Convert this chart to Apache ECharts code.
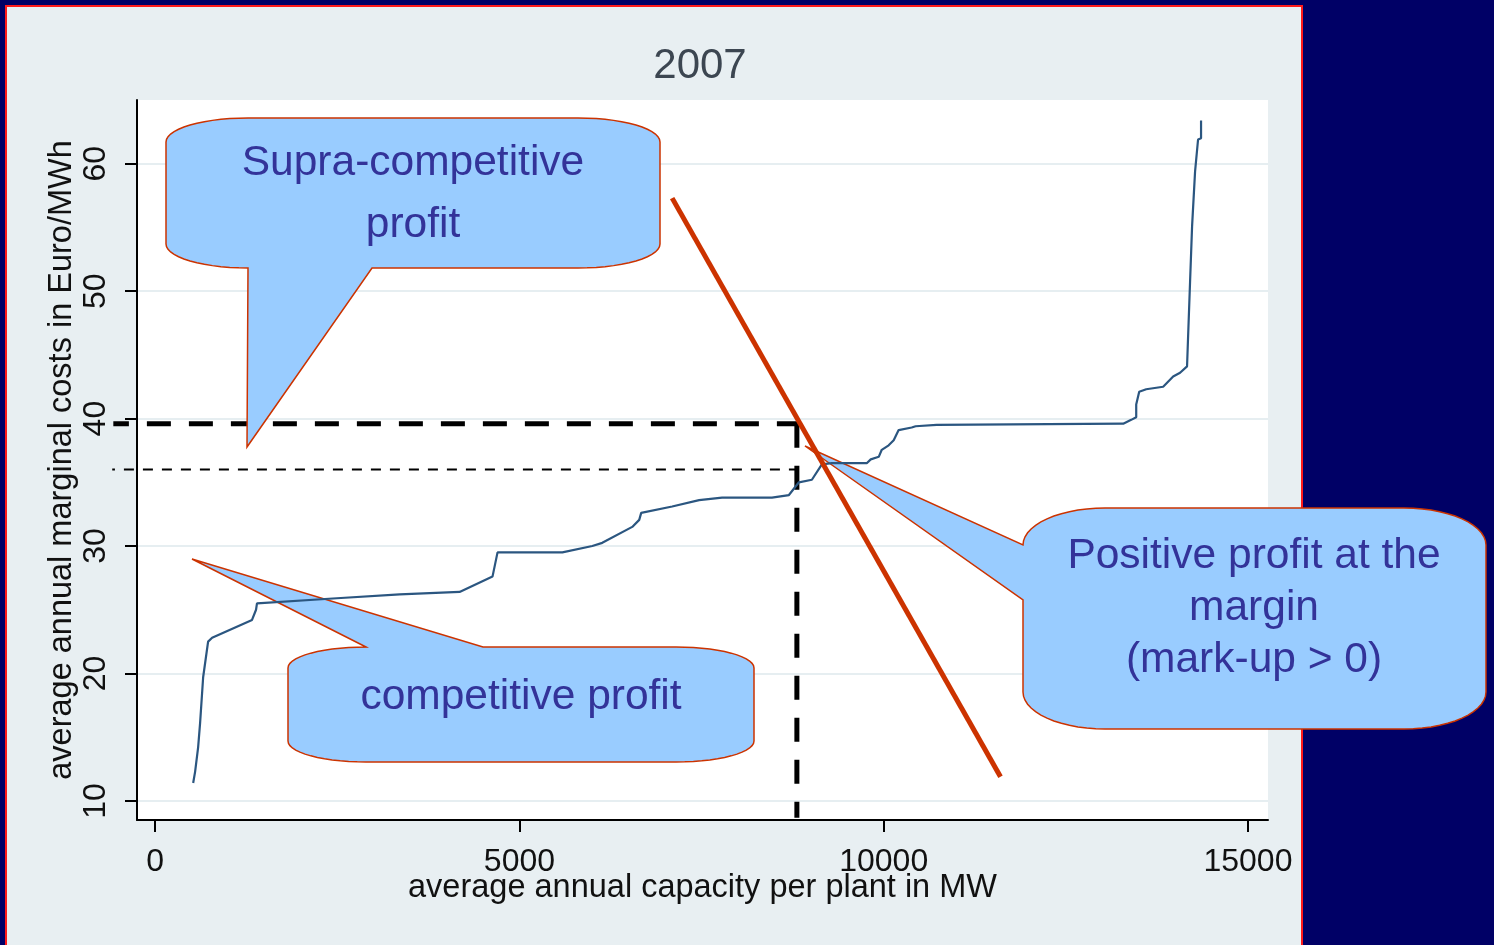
<!DOCTYPE html>
<html><head><meta charset="utf-8">
<script src="https://cdn.jsdelivr.net/npm/echarts@6/dist/echarts.min.js"></script>
<style>html,body{margin:0;padding:0;background:#e8eff2;width:1494px;height:945px;overflow:hidden}#c{width:1494px;height:945px}</style>
</head><body><div id="c"></div>
<script>
// ---- data ----
const capacity = [521, 548, 589, 616, 658, 726, 781, 1329, 1384, 1397, 2493, 3356, 4178, 4630, 4699, 5589, 6000, 6137, 6548, 6644, 6671, 7096, 7466, 7781, 8466, 8699, 8836, 9014, 9151, 9288, 9767, 9822, 9932, 9973, 10068, 10137, 10205, 10384, 10438, 10726, 10753, 13288, 13397, 13466, 13466, 13507, 13603, 13836, 13973, 14068, 14164, 14178, 14205, 14233, 14274, 14315, 14356, 14356];
const marginalCost = [11.4, 12.3, 14.2, 16.1, 19.7, 22.5, 22.8, 24.2, 25.0, 25.5, 25.9, 26.2, 26.4, 27.6, 29.5, 29.5, 30.0, 30.25, 31.5, 32.05, 32.6, 33.1, 33.6, 33.8, 33.8, 34.0, 35.0, 35.2, 36.4, 36.5, 36.5, 36.8, 37.0, 37.55, 37.9, 38.3, 39.1, 39.3, 39.4, 39.5, 39.6, 39.6, 39.9, 40.1, 41.1, 42.1, 42.3, 42.5, 43.3, 43.6, 44.1, 46.4, 50.7, 55.1, 59.4, 61.9, 62.0, 63.4];
const demandX = [7096, 11603];
const demandY = [57.3, 11.9];
const xTicks = [0, 5000, 10000, 15000];
const yTicks = [10, 20, 30, 40, 50, 60];
const marketPrice = 39.6;      // thick dashed horizontal
const competitivePrice = 36.0; // thin dashed horizontal
const marketQuantity = 8808;   // thick dashed vertical
const guideLeft = [-575, -590];
const guideRight = [8863, 8836];
const guideBottom = 8.67;
const titleText = '2007';
const xName = 'average annual capacity per plant in MW';
const yName = 'average annual marginal costs in Euro/MWh';

// ---- chart ----
const FONT = '"Liberation Sans", Arial, sans-serif';
function arcPts(cx, cy, rx, ry, a0, a1) {
  const out = [], n = 14;
  for (let i = 0; i <= n; i++) {
    const a = a0 + (a1 - a0) * i / n;
    out.push([cx + rx * Math.cos(a), cy + ry * Math.sin(a)]);
  }
  return out;
}
function calloutPoints(x0, y0, x1, y1, rx, ry, tail) {
  const P = Math.PI;
  let pts = [];
  if (tail.edge === 'top') pts = pts.concat(tail.pts);
  pts = pts.concat(arcPts(x1 - rx, y0 + ry, rx, ry, -P / 2, 0));
  pts = pts.concat(arcPts(x1 - rx, y1 - ry, rx, ry, 0, P / 2));
  if (tail.edge === 'bottom') pts = pts.concat(tail.pts);
  pts = pts.concat(arcPts(x0 + rx, y1 - ry, rx, ry, P / 2, P));
  if (tail.edge === 'left') pts = pts.concat(tail.pts);
  pts = pts.concat(arcPts(x0 + rx, y0 + ry, rx, ry, P, 1.5 * P));
  return pts;
}
const calloutStyle = { fill: '#99ccff', stroke: '#cc3300', lineWidth: 1.5 };
const textStyleBase = { font: '42.5px ' + FONT, fill: '#333399', align: 'center', verticalAlign: 'middle' };

function guideSeries(segments, width, dash) {
  return {
    type: 'custom', z: 2, silent: true, clip: false,
    encode: { x: [0, 2], y: [1, 3] },
    data: segments,
    renderItem: function (params, api) {
      const p0 = api.coord([api.value(0), api.value(1)]);
      const p1 = api.coord([api.value(2), api.value(3)]);
      return { type: 'line', shape: { x1: p0[0], y1: p0[1], x2: p1[0], y2: p1[1] },
        style: { stroke: '#000', lineWidth: width, lineDash: dash, lineCap: 'butt', fill: null } };
    }
  };
}

const chart = echarts.init(document.getElementById('c'), null, { renderer: 'canvas' });
const option = {
  backgroundColor: '#e8eff2',
  animation: false,
  grid: { left: 137, right: 226, top: 100, bottom: 125, show: true, backgroundColor: '#ffffff', borderWidth: 0, containLabel: false, outerBoundsMode: 'none' },
  xAxis: {
    type: 'value', min: -250, max: 15275,
    name: xName, nameLocation: 'middle', nameGap: 52, nameMoveOverlap: false,
    nameTextStyle: { fontFamily: FONT, fontSize: 32.5, color: '#111' },
    axisLine: { show: true, onZero: false, lineStyle: { color: '#000', width: 2 } },
    axisTick: { show: true, length: 12, lineStyle: { color: '#000', width: 2 }, customValues: xTicks },
    axisLabel: { customValues: xTicks, formatter: v => String(v), fontFamily: FONT, fontSize: 32, color: '#111', margin: 26 },
    splitLine: { show: false }
  },
  yAxis: {
    type: 'value', min: 8.5, max: 65,
    name: yName, nameLocation: 'middle', nameGap: 58, nameRotate: 90, nameMoveOverlap: false,
    nameTextStyle: { fontFamily: FONT, fontSize: 32.5, color: '#111' },
    axisLine: { show: true, onZero: false, lineStyle: { color: '#000', width: 2 } },
    axisTick: { show: true, length: 12, lineStyle: { color: '#000', width: 2 }, customValues: yTicks },
    axisLabel: { customValues: yTicks, formatter: v => String(v), rotate: 90, fontFamily: FONT, fontSize: 32, color: '#111', margin: 25 },
    splitLine: { show: true, lineStyle: { color: '#e6eef1', width: 2 } }
  },
  series: [
    guideSeries([
      [guideRight[0], marketPrice, guideLeft[0], marketPrice],
      [marketQuantity, marketPrice, marketQuantity, guideBottom]
    ], 5, [24, 18]),
    guideSeries([
      [guideRight[1], competitivePrice, guideLeft[1], competitivePrice]
    ], 2, [10, 9]),
    { type: 'line', name: 'marginal cost', z: 60, symbol: 'none', silent: true,
      data: capacity.map((x, i) => [x, marginalCost[i]]),
      lineStyle: { color: '#2b5680', width: 2.2 } },
    { type: 'line', name: 'demand', z: 70, symbol: 'none', silent: true,
      data: demandX.map((x, i) => [x, demandY[i]]),
      lineStyle: { color: '#cc3300', width: 5 } }
  ],
  graphic: [
    { type: 'rect', z: 1, silent: true, shape: { x: 0, y: 0, width: 1494, height: 5 }, style: { fill: '#000066' } },
    { type: 'rect', z: 1, silent: true, shape: { x: 0, y: 0, width: 5, height: 945 }, style: { fill: '#000066' } },
    { type: 'rect', z: 1, silent: true, shape: { x: 1303, y: 0, width: 191, height: 945 }, style: { fill: '#000066' } },
    { type: 'polyline', z: 1, silent: true, shape: { points: [[6, 950], [6, 6], [1302, 6], [1302, 950]] }, style: { stroke: '#ff1a1a', lineWidth: 2, fill: null } },
    { type: 'text', z: 50, silent: true, style: { text: titleText, x: 700, y: 66, font: '42px ' + FONT, fill: '#3c4651', align: 'center', verticalAlign: 'middle' } },
    { type: 'polygon', z: 50, silent: true, shape: { points: calloutPoints(166, 118, 660, 268, 82, 24, { edge: 'bottom', pts: [[372, 268], [247, 447], [248, 268]] }) }, style: calloutStyle },
    { type: 'text', z: 51, silent: true, style: Object.assign({}, textStyleBase, { text: 'Supra-competitive\nprofit', x: 413, y: 194, lineHeight: 62 }) },
    { type: 'polygon', z: 50, silent: true, shape: { points: calloutPoints(288, 647, 754, 762, 78, 21, { edge: 'top', pts: [[366, 647], [192, 559], [483, 647]] }) }, style: calloutStyle },
    { type: 'text', z: 51, silent: true, style: Object.assign({}, textStyleBase, { text: 'competitive profit', x: 521, y: 697 }) },
    { type: 'polygon', z: 50, silent: true, shape: { points: calloutPoints(1023, 508, 1486, 729, 82, 37, { edge: 'left', pts: [[1023, 600], [805, 446], [1023, 545]] }) }, style: calloutStyle },
    { type: 'text', z: 51, silent: true, style: Object.assign({}, textStyleBase, { text: 'Positive profit at the\nmargin\n(mark-up > 0)', x: 1254, y: 608, lineHeight: 52 }) }
  ]
};
chart.setOption(option);
</script></body></html>
